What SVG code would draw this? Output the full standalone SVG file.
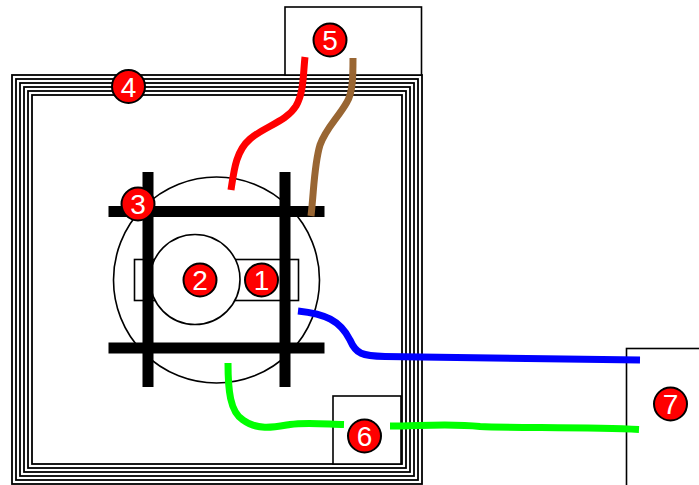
<svg xmlns="http://www.w3.org/2000/svg" width="699" height="485" viewBox="0 0 699 485">
<style>
.o{stroke:#000;stroke-width:1.6}
.f{fill:none;stroke:#000;stroke-width:1.8}
.b{fill:#fff}
.t{fill:none;stroke:#000;stroke-width:11}
.w{fill:none;stroke-width:7}
.c{fill:#f00;stroke:#000;stroke-width:2}
text{font-family:"Liberation Sans",Arial,sans-serif;font-size:28px;fill:#fff;text-anchor:middle}
</style>
<rect width="699" height="485" fill="#fff"/>
<g id="frame">
<rect class="f" x="12" y="75" width="410" height="409"/>
<rect class="f" x="16" y="79" width="402" height="401"/>
<rect class="f" x="20" y="83" width="394" height="393"/>
<rect class="f" x="24" y="87" width="386" height="385"/>
<rect class="f" x="28" y="91" width="378" height="377"/>
<rect class="f" x="32" y="95" width="370" height="369"/>
</g>
<g id="box5"><rect class="o b" x="285" y="7" width="136.500" height="68"/></g>
<g id="box6"><rect class="o b" x="333" y="396" width="68" height="68"/></g>
<g id="box7"><rect class="o b" x="626.500" y="348.500" width="80" height="140"/></g>
<g id="motor">
<circle class="o b" cx="216.500" cy="280" r="103"/>
<rect class="o b" x="134.500" y="259.500" width="164" height="41"/>
<circle class="o b" cx="195" cy="279.500" r="45"/>
<path class="t" d="M148 172V387M285 172V387M108.500 211.500H324.500M108.500 348H324.500"/>
</g>
<g id="connectors">
<path class="w" stroke="#f00" d="M305 57C303 75 304 92 296 106C286 122 265 126 250 139C236 151 234 170 231 190"/>
<path class="w" stroke="#996633" d="M353 58C353 75 353 92 347 102C338 118 326 128 320 145C314 165 314 190 311 216"/>
<path class="w" stroke="#00f" d="M298 311C325 314 340 320 350 340C356 354 362 356 385 356.500L640 360"/>
<path class="w" stroke="#0f0" d="M228 363C228 390 230 412 243 420C258 431 275 427 290 424.500C305 422 325 424 344 424.500"/>
<path class="w" stroke="#0f0" d="M390 426C420 426 450 423 480 426.500C510 428 590 427 639 429.500"/>
</g>
<g id="n1"><circle class="c" cx="261.500" cy="280" r="16.500"/><text x="261.500" y="290">1</text></g>
<g id="n2"><circle class="c" cx="200" cy="280" r="16.500"/><text x="200" y="290">2</text></g>
<g id="n3"><circle class="c" cx="138" cy="204" r="16.500"/><text x="138" y="214">3</text></g>
<g id="n4"><circle class="c" cx="128.500" cy="86.500" r="16.500"/><text x="128.500" y="96.500">4</text></g>
<g id="n5"><circle class="c" cx="330" cy="40" r="16.500"/><text x="330" y="50">5</text></g>
<g id="n6"><circle class="c" cx="364.500" cy="436" r="16.500"/><text x="364.500" y="446">6</text></g>
<g id="n7"><circle class="c" cx="670.500" cy="404" r="16.500"/><text x="670.500" y="414">7</text></g>
</svg>
